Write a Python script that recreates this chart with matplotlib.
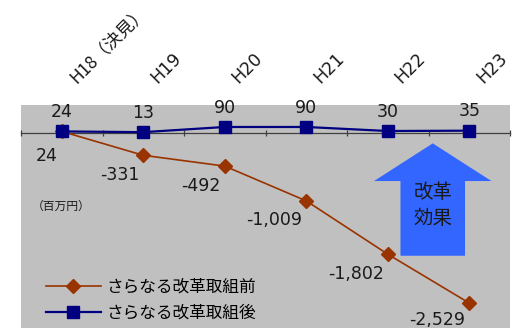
import matplotlib
matplotlib.use('Agg')
import matplotlib.pyplot as plt
from matplotlib.patches import Polygon
import numpy as np

plt.rcParams['font.family'] = ['DejaVu Sans', 'Noto Sans CJK JP']
cjk = ['Noto Sans CJK JP', 'DejaVu Sans']

# データ
years = ['H18（決見）', 'H19', 'H20', 'H21', 'H22', 'H23']
before = [24, -331, -492, -1009, -1802, -2529]
after = [24, 13, 90, 90, 30, 35]
before_name = 'さらなる改革取組前'
after_name = 'さらなる改革取組後'

brown = '#993300'
navy = '#000080'
gray = '#C0C0C0'

fig = plt.figure(figsize=(5.32, 3.28), dpi=100)
ax = fig.add_axes([21 / 532, 0, 489 / 532, 223 / 328])
ax.set_facecolor(gray)

x = np.arange(len(years))
ax.plot(x, before, color=brown, lw=1.2, marker='D', ms=7.5,
        mec=brown, mfc=brown, label=before_name, zorder=3)
ax.plot(x, after, color=navy, lw=1.6, marker='s', ms=9,
        mec=navy, mfc=navy, label=after_name, zorder=4)

ax.set_xlim(-0.5, len(years) - 0.5)
ax.set_ylim(-2900, 417)

# 軸
for s in ['top', 'left', 'right']:
    ax.spines[s].set_visible(False)
ax.spines['bottom'].set_position(('data', 0))
ax.spines['bottom'].set_color('#404040')
ax.spines['bottom'].set_linewidth(0.9)
ax.set_yticks([])
ax.set_xticks([])
ax.set_xticks(np.arange(-0.5, len(years), 1), minor=True)
ax.tick_params(axis='x', which='minor', direction='inout', length=5,
               width=0.9, color='#404040', labelbottom=False)

# 年度ラベル（上）
for i, lab in enumerate(years):
    fam = cjk if i == 0 else None
    ax.annotate(lab, xy=(i, 1), xycoords=('data', 'axes fraction'),
                xytext=(12, 13), textcoords='offset points',
                rotation=45, rotation_mode='anchor', ha='left', va='bottom',
                fontsize=12.5, color='#1a1a1a', annotation_clip=False,
                family=fam)

# データラベル
for i, v in enumerate(after):
    ax.annotate(f'{v:,}', xy=(i, v), xytext=(0, 14), textcoords='offset points',
                ha='center', va='center', fontsize=12.5, color='#1a1a1a')
for i, v in enumerate(before):
    dy = -18 if i == 0 else -14
    if i == len(before) - 1:
        dy = -12
    ax.annotate(f'{v:,}', xy=(i, v), xytext=(-3, dy), textcoords='offset points',
                ha='right', va='center', fontsize=12.5, color='#1a1a1a')

ax.text(0.022, 0.547, '（百万円）', transform=ax.transAxes, fontsize=8.5,
        ha='left', va='center', color='#1a1a1a', family=cjk)

# 改革効果の矢印
arrow = Polygon([(0.776, 0.324), (0.776, 0.659), (0.722, 0.659), (0.842, 0.828),
                 (0.962, 0.659), (0.908, 0.659), (0.908, 0.324)],
                closed=True, transform=ax.transAxes, facecolor='#3366FF',
                edgecolor='none', zorder=2)
ax.add_patch(arrow)
ax.text(0.842, 0.549, '改革\n効果', transform=ax.transAxes, fontsize=14,
        ha='center', va='center', linespacing=1.35, color='#1a1a1a', zorder=5,
        family=cjk)

ax.legend(loc='lower left', bbox_to_anchor=(0.02, -0.038), frameon=False,
          fontsize=12, handlelength=3.3, handletextpad=0.35, labelspacing=0.45)

fig.savefig('out.png', dpi=100)
